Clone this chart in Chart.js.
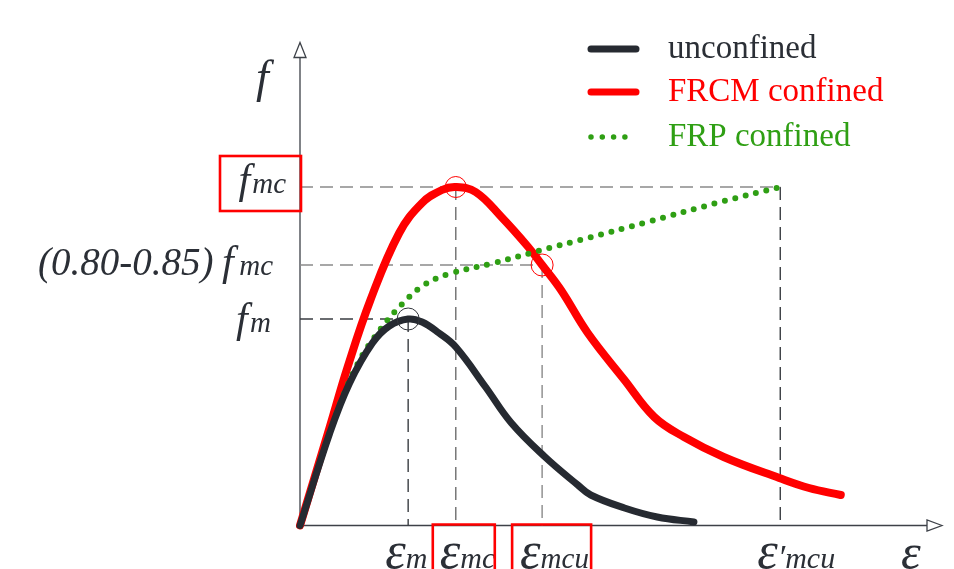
<!DOCTYPE html>
<html>
<head>
<meta charset="utf-8">
<script src="https://cdn.jsdelivr.net/npm/chart.js@4.4.1/dist/chart.umd.min.js"></script>
<style>
  html, body { margin:0; padding:0; background:#fff; }
  canvas { display:block; }
</style>
</head>
<body>
<canvas id="chart" width="954" height="569"></canvas>
<script>
// ====== curvas tensión-deformación (esquema, unidades arbitrarias) ======
const unconfinedStrain = [0, 0.30, 0.50, 0.73, 0.90, 1.09, 1.23, 1.40, 1.57, 1.87, 2.13, 2.47, 2.80, 2.93, 3.27, 3.60, 3.97];
const unconfinedStress = [0, 0.925, 1.425, 1.825, 1.995, 2.065, 2.035, 1.925, 1.785, 1.385, 1.025, 0.685, 0.405, 0.305, 0.175, 0.085, 0.035];

const frcmStrain = [0, 0.30, 0.48, 0.71, 1.00, 1.23, 1.43, 1.57, 1.77, 2.03, 2.30, 2.44, 2.63, 2.90, 3.27, 3.57, 3.87, 4.27, 4.83, 5.13, 5.45];
const frcmStress = [0, 0.985, 1.585, 2.255, 2.925, 3.225, 3.355, 3.385, 3.335, 3.085, 2.785, 2.605, 2.355, 1.925, 1.455, 1.085, 0.885, 0.685, 0.475, 0.375, 0.305];

const frpStrain = [0, 0.30, 0.57, 0.82, 1.03, 1.25, 1.50, 1.95, 2.40, 2.90, 3.50, 4.20, 4.84];
const frpStress = [0, 0.935, 1.595, 1.975, 2.215, 2.405, 2.515, 2.625, 2.745, 2.875, 3.035, 3.225, 3.385];

// puntos característicos
const epsM = 1.09, epsMC = 1.57, epsMCU = 2.44, epsMCUp = 4.84;
const fM = 2.065, fMC = 3.385, fMCred = 2.605;
const xMax = 6.47, yMax = 4.83;

const seriesLabels = ['unconfined', 'FRCM confined', 'FRP confined'];

const C_DARK = '#262a31', C_RED = '#ff0000', C_GREEN = '#2f9f14', C_TEXT = '#2b2f36';
const SERIF = '"Liberation Serif", "DejaVu Serif", serif';

const pts = (xs, ys) => xs.map((x, i) => ({ x, y: ys[i] }));

// --- líneas guía discontinuas ---
const guides = [
  { a:[0, fMC],       b:[epsMCUp, fMC], color:'#8a8a8a' },
  { a:[0, fMCred],    b:[epsMCU, fMCred], color:'#8a8a8a' },
  { a:[0, fM],        b:[epsM, fM], color:'#3a3d42' },
  { a:[epsM, fM],     b:[epsM, 0], color:'#3a3d42' },
  { a:[epsMC, fMC],   b:[epsMC, 0], color:'#6e6e6e' },
  { a:[epsMCU, fMCred], b:[epsMCU, 0], color:'#8a8a8a' },
  { a:[epsMCUp, fMC], b:[epsMCUp, 0], color:'#3a3d42' }
];

const markerData = [
  { x: epsMC, y: fMC }, { x: epsMCU, y: fMCred }, { x: epsM, y: fM }
];

const datasets = [
  { label:'_markers', data: markerData, showLine:false, pointRadius:[10.5, 11, 11],
    pointBorderColor:[C_RED, C_RED, '#33363c'], pointBackgroundColor:'rgba(0,0,0,0)', pointBorderWidth:1, clip:false },
  { label: seriesLabels[0], data: pts(unconfinedStrain, unconfinedStress), borderColor: C_DARK, borderWidth:7,
    borderCapStyle:'round', borderJoinStyle:'round', tension:0.4, pointRadius:0, clip:false },
  { label: seriesLabels[2], data: pts(frpStrain, frpStress), borderColor: C_GREEN, borderWidth:6, borderDash:[0, 10.7],
    borderCapStyle:'round', tension:0.4, pointRadius:0, clip:false },
  { label: seriesLabels[1], data: pts(frcmStrain, frcmStress), borderColor: C_RED, borderWidth:8,
    borderCapStyle:'round', borderJoinStyle:'round', tension:0.4, pointRadius:0, clip:false },
  ...guides.map(g => ({ label:'_guide', data:[{x:g.a[0], y:g.a[1]}, {x:g.b[0], y:g.b[1]}], borderColor:g.color,
    borderWidth:1.4, borderDash:[13, 7], pointRadius:0, clip:false }))
];

// etiquetas de ejes: [valor, partes de texto, desplazamiento]
const xTickLabels = [
  { v: epsM,    parts: [['ε',52], ['m',30]], dx:-23 },
  { v: epsMC,   parts: [['ε',52], ['mc',30]], dx:-16 },
  { v: epsMCU,  parts: [['ε',52], ['mcu',29]], dx:-22 },
  { v: epsMCUp, parts: [['ε',52], ['′',34], ['mcu',30]], dx:-23 }
];
const yTickLabels = [
  { v: fMC,    parts: [['f',42], [' ',8], ['mc',29]], right:286, dy:6 },
  { v: fMCred, parts: [['(0.80-0.85)',39], [' ',34], ['f',42], [' ',22], ['mc',29]], right:273, dy:10 },
  { v: fM,     parts: [['f',42], [' ',10], ['m',29]], right:271, dy:13 }
];
const boxedX = [epsMC, epsMCU];
const boxedY = [fMC];

function drawParts(ctx, parts, x, y, color){
  ctx.fillStyle = color;
  ctx.textBaseline = 'alphabetic';
  ctx.textAlign = 'left';
  let cx = x;
  parts.forEach(([t, s]) => {
    ctx.font = `italic ${s}px ${SERIF}`;
    ctx.fillText(t, cx, y);
    cx += ctx.measureText(t).width;
  });
  return cx - x;
}
function partsWidth(ctx, parts){
  let w = 0;
  parts.forEach(([t, s]) => { ctx.font = `italic ${s}px ${SERIF}`; w += ctx.measureText(t).width; });
  return w;
}

const schemePlugin = {
  id: 'scheme',
  beforeDatasetsDraw(chart){
    const { ctx, scales:{ x, y } } = chart;
    const x0 = x.getPixelForValue(0), y0 = y.getPixelForValue(0);
    const xEnd = x.getPixelForValue(xMax), yTop = y.getPixelForValue(yMax);
    ctx.save();
    ctx.strokeStyle = '#3d4148'; ctx.lineWidth = 1.3;
    ctx.beginPath();
    ctx.moveTo(x0, y0); ctx.lineTo(x0, yTop + 15);
    ctx.moveTo(x0, y0); ctx.lineTo(xEnd - 15, y0);
    ctx.stroke();
    ctx.fillStyle = '#fff';
    // flechas
    ctx.beginPath();
    ctx.moveTo(x0, yTop); ctx.lineTo(x0 - 6, yTop + 15); ctx.lineTo(x0 + 6, yTop + 15); ctx.closePath();
    ctx.fill(); ctx.stroke();
    ctx.beginPath();
    ctx.moveTo(xEnd, y0); ctx.lineTo(xEnd - 15, y0 - 5.5); ctx.lineTo(xEnd - 15, y0 + 5.5); ctx.closePath();
    ctx.fill(); ctx.stroke();
    ctx.restore();
  },
  afterDraw(chart){
    const { ctx, scales:{ x, y } } = chart;
    const x0 = x.getPixelForValue(0), y0 = y.getPixelForValue(0);
    ctx.save();

    // nombres de ejes
    drawParts(ctx, [['f',46]], 256, 92, C_TEXT);
    drawParts(ctx, [['ε',50]], 901, 569, C_TEXT);

    xTickLabels.forEach(l => drawParts(ctx, l.parts, x.getPixelForValue(l.v) + l.dx, 568, C_TEXT));
    yTickLabels.forEach(l => {
      const w = partsWidth(ctx, l.parts);
      drawParts(ctx, l.parts, l.right - w, y.getPixelForValue(l.v) + l.dy, C_TEXT);
    });

    // recuadros rojos
    ctx.strokeStyle = C_RED; ctx.lineWidth = 2.6;
    boxedY.forEach(v => {
      const py = y.getPixelForValue(v);
      ctx.strokeRect(220, py - 31, x0 - 219, 55);
    });
    const boxW = { [epsMC]: [-23, 39], [epsMCU]: [-30, 49] };
    boxedX.forEach(v => {
      const px = x.getPixelForValue(v);
      const [l, r] = boxW[v];
      ctx.beginPath();
      ctx.moveTo(px + l, 580); ctx.lineTo(px + l, y0 - 1); ctx.lineTo(px + r, y0 - 1); ctx.lineTo(px + r, 580);
      ctx.stroke();
    });

    // leyenda
    const legendRows = [
      { ds: chart.data.datasets[1], y: 49 },
      { ds: chart.data.datasets[3], y: 92 },
      { ds: chart.data.datasets[2], y: 137 }
    ];
    legendRows.forEach(r => {
      ctx.strokeStyle = r.ds.borderColor;
      ctx.lineCap = 'round';
      ctx.lineWidth = r.ds.borderDash ? 5.5 : 7;
      ctx.setLineDash(r.ds.borderDash ? [0, 11.3] : []);
      ctx.beginPath(); ctx.moveTo(591, r.y); ctx.lineTo(636, r.y); ctx.stroke();
      ctx.setLineDash([]);
      ctx.fillStyle = r.ds.borderColor === C_DARK ? C_TEXT : r.ds.borderColor;
      ctx.font = `33px ${SERIF}`;
      ctx.textAlign = 'left'; ctx.textBaseline = 'alphabetic';
      ctx.fillText(r.ds.label, 668, r.y + 9);
    });
    ctx.restore();
  }
};

new Chart(document.getElementById('chart'), {
  type: 'line',
  data: { datasets },
  options: {
    responsive: false, animation: false, events: [],
    layout: { padding: { left:300, right:7, top:42.5, bottom:43.5 } },
    scales: {
      x: { type:'linear', min:0, max:xMax, display:false },
      y: { type:'linear', min:0, max:yMax, display:false }
    },
    plugins: { legend:{ display:false }, tooltip:{ enabled:false } }
  },
  plugins: [schemePlugin]
});
</script>
</body>
</html>
